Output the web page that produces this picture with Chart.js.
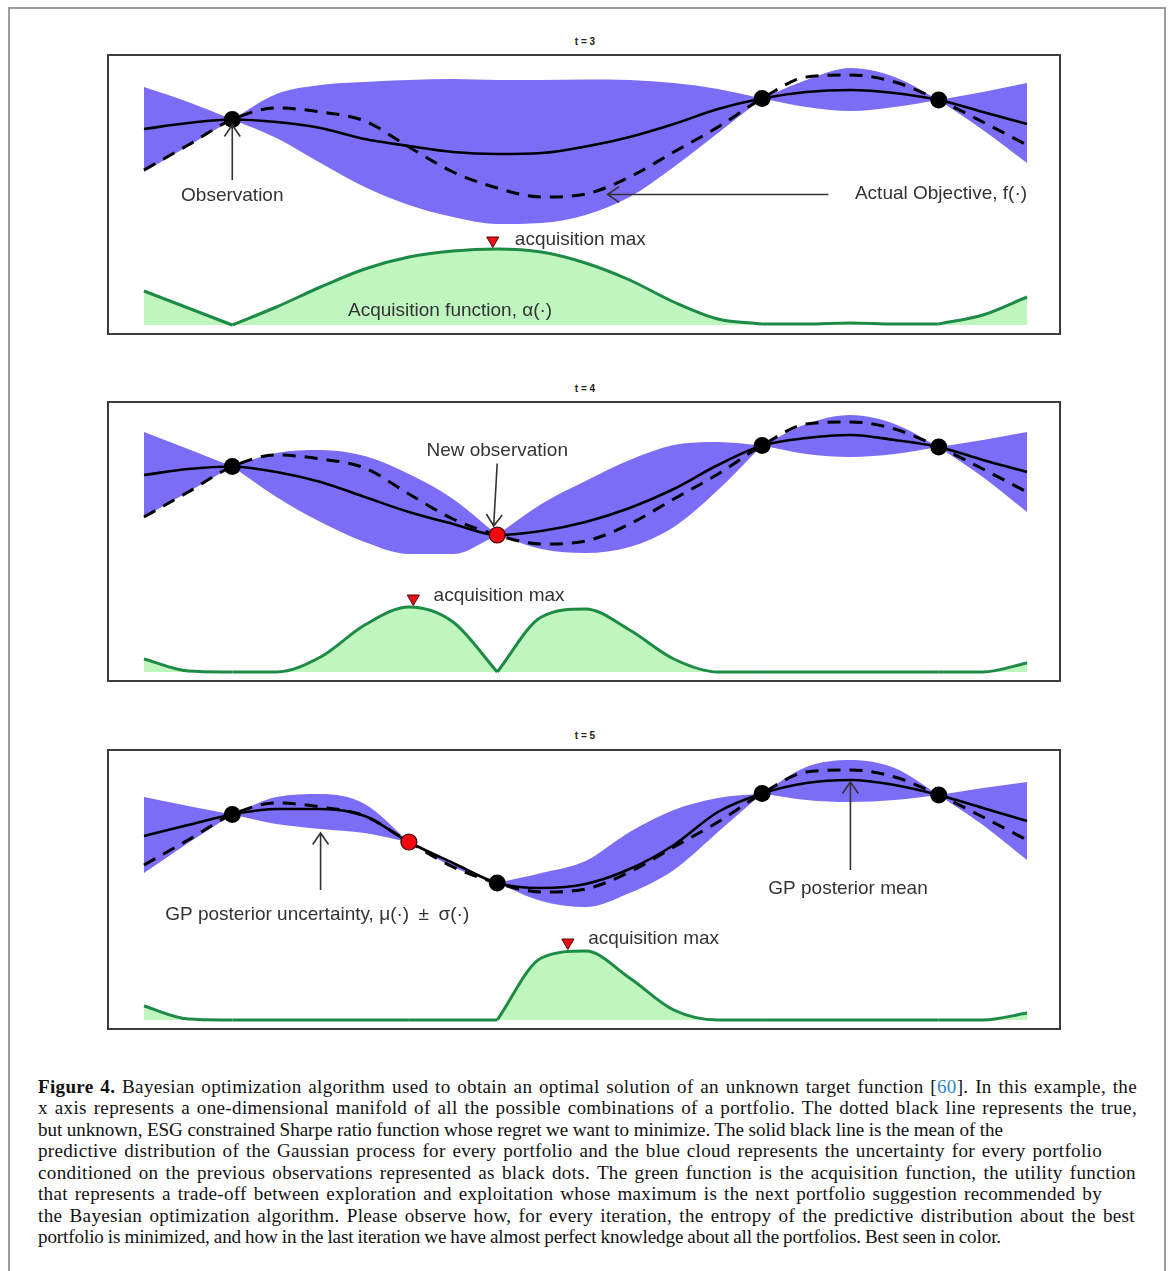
<!DOCTYPE html>
<html>
<head>
<meta charset="utf-8">
<script src="https://cdn.jsdelivr.net/npm/chart.js@4.4.1/dist/chart.umd.min.js"></script>
<style>
  html, body { margin: 0; padding: 0; background: #fff; }
  body { width: 1171px; height: 1271px; position: relative; overflow: hidden; }
  #frame { position: absolute; left: 8px; top: 7px; width: 1154px; height: 1300px;
           border: 2px solid #9c9c9c; border-bottom: none; }
  .title { position: absolute; left: 555px; width: 60px; text-align: center;
           font: bold 10px "Liberation Sans", Arial, sans-serif; color: #222; line-height: 12px; }
  .panel { position: absolute; left: 107px; width: 950px; height: 277px; border: 2px solid #3c3c3c; }
  .panel canvas { display: block; }
  #caption { position: absolute; left: 38px; top: 1076px; font: 19.1px "Liberation Serif", "Times New Roman", serif;
             line-height: 21.45px; color: #111; white-space: nowrap; }
  #caption .ln { display: inline-block; }
  #caption .ref { color: #2f86c8; }
</style>
</head>
<body>
<div id="frame"></div>

<div class="title" style="top:36px">t = 3</div>
<div class="panel" style="top:54px"><canvas id="c0" width="950" height="277"></canvas></div>
<div class="title" style="top:383px">t = 4</div>
<div class="panel" style="top:401px"><canvas id="c1" width="950" height="277"></canvas></div>
<div class="title" style="top:730px">t = 5</div>
<div class="panel" style="top:749px"><canvas id="c2" width="950" height="277"></canvas></div>

<div id="caption">
<span class="ln"><b>Figure 4.</b> Bayesian optimization algorithm used to obtain an optimal solution of an unknown target function [<span class="ref">60</span>]. In this example, the</span><br>
<span class="ln">x axis represents a one-dimensional manifold of all the possible combinations of a portfolio. The dotted black line represents the true,</span><br>
<span class="ln">but unknown, ESG constrained Sharpe ratio function whose regret we want to minimize. The solid black line is the mean of the</span><br>
<span class="ln">predictive distribution of the Gaussian process for every portfolio and the blue cloud represents the uncertainty for every portfolio</span><br>
<span class="ln">conditioned on the previous observations represented as black dots. The green function is the acquisition function, the utility function</span><br>
<span class="ln">that represents a trade-off between exploration and exploitation whose maximum is the next portfolio suggestion recommended by</span><br>
<span class="ln">the Bayesian optimization algorithm. Please observe how, for every iteration, the entropy of the predictive distribution about the best</span><br>
<span class="ln">portfolio is minimized, and how in the last iteration we have almost perfect knowledge about all the portfolios. Best seen in color.</span>
</div>

<script>
// x grid (portfolio manifold, 0..1)
const xs = [0, 0.05, 0.1, 0.15, 0.2, 0.25, 0.3, 0.35, 0.4, 0.45, 0.5,
            0.55, 0.6, 0.65, 0.7, 0.75, 0.8, 0.85, 0.9, 0.95, 1];

// actual objective f(.), same in every iteration
const objective = [0.23, 0.48, 0.735, 0.85, 0.81, 0.72, 0.46, 0.21, 0.05, -0.04, -0.01,
                   0.16, 0.41, 0.66, 0.945, 1.16, 1.18, 1.11, 0.93, 0.71, 0.48];

// t = 3
const mean3  = [0.64, 0.70, 0.735, 0.71, 0.65, 0.54, 0.47, 0.41, 0.39, 0.40, 0.465,
                0.56, 0.69, 0.84, 0.945, 1.01, 1.03, 1.00, 0.93, 0.81, 0.69];
const upper3 = [1.06, 0.91, 0.735, 0.99, 1.08, 1.11, 1.13, 1.14, 1.13, 1.13, 1.135,
                1.13, 1.10, 1.04, 0.945, 1.13, 1.25, 1.16, 0.93, 1.01, 1.10];
const lower3 = [0.21, 0.47, 0.735, 0.55, 0.30, 0.06, -0.12, -0.24, -0.31, -0.30, -0.22,
                -0.04, 0.26, 0.60, 0.945, 0.86, 0.82, 0.86, 0.93, 0.63, 0.30];
const acq3   = [0.34, 0.17, 0, 0.18, 0.38, 0.56, 0.68, 0.74, 0.76, 0.73, 0.62,
                0.45, 0.23, 0.06, 0.01, 0.01, 0.02, 0.01, 0.01, 0.10, 0.28];

// t = 4
const mean4  = [0.65, 0.71, 0.735, 0.68, 0.58, 0.43, 0.28, 0.16, 0.05, 0.09, 0.18,
                0.32, 0.51, 0.75, 0.945, 1.02, 1.05, 1.00, 0.93, 0.80, 0.68];
const upper4 = [1.08, 0.91, 0.735, 0.87, 0.90, 0.84, 0.66, 0.41, 0.05, 0.36, 0.59,
                0.80, 0.95, 0.98, 0.945, 1.16, 1.25, 1.16, 0.93, 1.00, 1.08];
const lower4 = [0.23, 0.48, 0.735, 0.43, 0.18, -0.02, -0.14, -0.14, 0.05, -0.09, -0.13,
                -0.07, 0.13, 0.50, 0.945, 0.86, 0.83, 0.86, 0.93, 0.63, 0.28];
const acq4   = [0.13, 0.01, 0, 0, 0.15, 0.47, 0.65, 0.50, 0, 0.55, 0.63,
                0.42, 0.13, 0, 0, 0, 0, 0, 0, 0, 0.09];

// t = 5
const mean5  = [0.52, 0.63, 0.735, 0.79, 0.79, 0.72, 0.46, 0.25, 0.05, 0.00, 0.04,
                0.19, 0.43, 0.76, 0.945, 1.05, 1.08, 1.03, 0.93, 0.80, 0.67];
const upper5 = [0.91, 0.82, 0.735, 0.91, 0.94, 0.84, 0.46, 0.26, 0.05, 0.15, 0.27,
                0.56, 0.78, 0.90, 0.945, 1.21, 1.28, 1.20, 0.93, 1.00, 1.06];
const lower5 = [0.15, 0.45, 0.735, 0.64, 0.59, 0.55, 0.46, 0.21, 0.05, -0.13, -0.19,
                -0.05, 0.18, 0.56, 0.945, 0.88, 0.86, 0.88, 0.93, 0.63, 0.28];
const acq5   = [0.14, 0.01, 0, 0, 0, 0, 0, 0, 0, 0.62, 0.69,
                0.42, 0.10, 0, 0, 0, 0, 0, 0, 0, 0.07];

// observations (indices into xs), the newest one drawn red
const obsIdx = [[2, 14, 18], [2, 8, 14, 18], [2, 6, 8, 14, 18]];
const newIdx = [null, 8, 6];
const acqMaxX = [0.395, 0.305, 0.48];

const panels = [
  { mean: mean3, upper: upper3, lower: lower3, acq: acq3 },
  { mean: mean4, upper: upper4, lower: lower4, acq: acq4 },
  { mean: mean5, upper: upper5, lower: lower5, acq: acq5 }
];

// annotations, in data units
const notes = [
  [
    { text: 'Observation', x: 0.1, y: -0.03, align: 'center' },
    { arrow: [0.1, 0.13, 0.1, 0.68] },
    { text: 'Actual Objective, f(\u00b7)', x: 1.0, y: -0.01, align: 'right' },
    { arrow: [0.775, -0.015, 0.525, -0.015] },
    { text: 'acquisition max', x: 0.42, y: 0.85, align: 'left', axis: 'yAcq' },
    { text: 'Acquisition function, \u03b1(\u00b7)', x: 0.231, y: 0.14, align: 'left', axis: 'yAcq' }
  ],
  [
    { text: 'New observation', x: 0.4, y: 0.89, align: 'center' },
    { arrow: [0.4, 0.765, 0.396, 0.14] },
    { text: 'acquisition max', x: 0.328, y: 0.76, align: 'left', axis: 'yAcq' }
  ],
  [
    { text: 'GP posterior uncertainty, \u03bc(\u00b7)\u2002\u00b1\u2002\u03c3(\u00b7)', x: 0.024, y: -0.27, align: 'left' },
    { arrow: [0.2, -0.02, 0.2, 0.55] },
    { text: 'GP posterior mean', x: 0.707, y: -0.01, align: 'left' },
    { arrow: [0.8, 0.18, 0.8, 1.06] },
    { text: 'acquisition max', x: 0.503, y: 0.81, align: 'left', axis: 'yAcq' }
  ]
];

// where each caption line ends in the reference
const captionEnds = [1137, 1137, 1003, 1102, 1136, 1102, 1135, 1001];

const BAND = '#7c6df6';
const GREEN_FILL = '#bff6bf';
const GREEN_LINE = '#1d8a45';

function pts(vals, from, to) {
  const out = [];
  for (let i = from; i <= to; i++) out.push({ x: xs[i], y: vals[i] });
  return out;
}

// split a series at the observation points, so kinks stay sharp
function pieces(vals, cuts) {
  const b = [0].concat(cuts.filter(c => c > 0 && c < xs.length - 1), [xs.length - 1]);
  const out = [];
  for (let k = 0; k < b.length - 1; k++) out.push(pts(vals, b[k], b[k + 1]));
  return out;
}

function notesPlugin(list) {
  return {
    id: 'notes',
    afterDatasetsDraw(chart) {
      const ctx = chart.ctx;
      const sx = chart.scales.x;
      ctx.save();
      list.forEach(n => {
        const sy = chart.scales[n.axis || 'yGP'];
        if (n.text) {
          ctx.font = '19px "Liberation Sans", Arial, sans-serif';
          ctx.fillStyle = '#333';
          ctx.textAlign = n.align;
          ctx.textBaseline = 'middle';
          ctx.fillText(n.text, sx.getPixelForValue(n.x), sy.getPixelForValue(n.y));
        }
        if (n.arrow) {
          const [x0, y0, x1, y1] = n.arrow;
          const ax = sx.getPixelForValue(x0), ay = sy.getPixelForValue(y0);
          const bx = sx.getPixelForValue(x1), by = sy.getPixelForValue(y1);
          const ang = Math.atan2(by - ay, bx - ax);
          const L = 14, w = 0.6;
          ctx.strokeStyle = '#333';
          ctx.lineWidth = 1.6;
          ctx.beginPath();
          ctx.moveTo(ax, ay);
          ctx.lineTo(bx, by);
          ctx.moveTo(bx - L * Math.cos(ang - w), by - L * Math.sin(ang - w));
          ctx.lineTo(bx, by);
          ctx.lineTo(bx - L * Math.cos(ang + w), by - L * Math.sin(ang + w));
          ctx.stroke();
        }
      });
      ctx.restore();
    }
  };
}

panels.forEach((p, k) => {
  const cuts = obsIdx[k];
  const datasets = [];

  // observations
  datasets.push({
    data: cuts.filter(i => i !== newIdx[k]).map(i => ({ x: xs[i], y: objective[i] })),
    yAxisID: 'yGP', showLine: false, pointRadius: 8.5,
    pointBackgroundColor: '#000', pointBorderColor: '#000', pointBorderWidth: 0, order: 0
  });
  if (newIdx[k] !== null) {
    datasets.push({
      data: [{ x: xs[newIdx[k]], y: objective[newIdx[k]] }],
      yAxisID: 'yGP', showLine: false, pointRadius: 8,
      pointBackgroundColor: '#f2080f', pointBorderColor: '#300', pointBorderWidth: 1.2, order: 0
    });
  }
  // acquisition max marker
  datasets.push({
    data: [{ x: acqMaxX[k], y: Math.max(...p.acq) + 0.085 }],
    yAxisID: 'yAcq', showLine: false, pointStyle: 'triangle', rotation: 180, pointRadius: 7,
    pointBackgroundColor: '#e5101a', pointBorderColor: '#5a0000', pointBorderWidth: 1, order: 0
  });
  // GP mean
  datasets.push({
    data: pts(p.mean, 0, xs.length - 1), yAxisID: 'yGP',
    borderColor: '#000', borderWidth: 2.6, pointRadius: 0,
    cubicInterpolationMode: 'monotone', fill: false, order: 1
  });
  // actual objective
  datasets.push({
    data: pts(objective, 0, xs.length - 1), yAxisID: 'yGP',
    borderColor: '#000', borderWidth: 3, borderDash: [13, 9], pointRadius: 0,
    cubicInterpolationMode: 'monotone', fill: false, order: 2
  });
  // acquisition function
  pieces(p.acq, cuts).forEach(seg => {
    datasets.push({
      data: seg, yAxisID: 'yAcq',
      borderColor: GREEN_LINE, borderWidth: 3, pointRadius: 0,
      backgroundColor: GREEN_FILL, fill: 'origin',
      cubicInterpolationMode: 'monotone', order: 3
    });
  });
  // uncertainty band mu +/- sigma
  const up = pieces(p.upper, cuts), lo = pieces(p.lower, cuts);
  up.forEach((seg, j) => {
    datasets.push({
      data: seg, yAxisID: 'yGP', borderColor: 'transparent', borderWidth: 0, pointRadius: 0,
      backgroundColor: BAND, fill: '+1', cubicInterpolationMode: 'monotone', order: 4
    });
    datasets.push({
      data: lo[j], yAxisID: 'yGP', borderColor: 'transparent', borderWidth: 0, pointRadius: 0,
      fill: false, cubicInterpolationMode: 'monotone', order: 4
    });
  });

  new Chart(document.getElementById('c' + k), {
    type: 'line',
    data: { datasets: datasets },
    options: {
      responsive: false,
      animation: false,
      events: [],
      layout: { padding: 0, autoPadding: false },
      plugins: { legend: { display: false }, tooltip: { enabled: false } },
      scales: {
        x: { type: 'linear', min: -0.0396, max: 1.0362, display: false },
        yGP: { type: 'linear', min: -1.40, max: 1.37, display: false },
        yAcq: { type: 'linear', min: -0.08, max: 2.69, display: false }
      }
    },
    plugins: [notesPlugin(notes[k])]
  });
});

// stretch caption lines to the widths of the reference
function fitCaption() {
  document.querySelectorAll('#caption .ln').forEach((el, i) => {
    el.style.letterSpacing = '0px';
    el.style.wordSpacing = '0px';
    const r = el.getBoundingClientRect();
    const extra = captionEnds[i] - r.right;
    const txt = el.textContent;
    const spaces = (txt.match(/ /g) || []).length || 1;
    el.style.letterSpacing = (extra * 0.55 / txt.length) + 'px';
    el.style.wordSpacing = (extra * 0.45 / spaces) + 'px';
  });
}
fitCaption();
if (document.fonts && document.fonts.ready) document.fonts.ready.then(fitCaption);
</script>
</body>
</html>
